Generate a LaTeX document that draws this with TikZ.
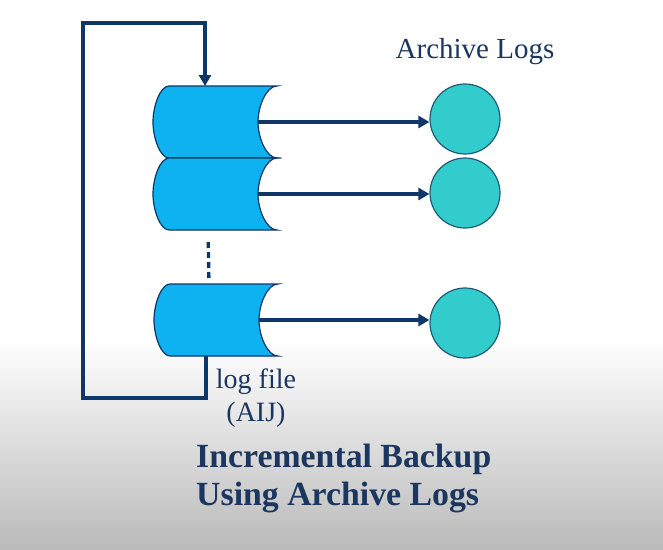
\documentclass[tikz,border=0pt]{standalone}
\usepackage{fontspec}
\setmainfont{Liberation Serif}
\usetikzlibrary{arrows.meta,positioning}

\definecolor{navyline}{HTML}{0E3668}
\definecolor{navytext}{HTML}{1B365F}
\definecolor{drumblue}{HTML}{0FB2F0}
\definecolor{archteal}{HTML}{33CCCC}
\definecolor{archedge}{HTML}{1F5A78}

\begin{document}
\begin{tikzpicture}[x=1pt, y=-1pt, node distance=1cm]
\tikzset{
    mydrum/.style={draw=navyline, fill=drumblue, line width=1.2pt},
    myarrow/.style={-{Triangle[length=11pt,width=12pt]}, draw=navyline, line width=3.3pt},
    myline/.style={draw=navyline, line width=3.3pt},
    archive/.style={circle, draw=archedge, fill=archteal, line width=1.2pt, minimum size=70pt, inner sep=0pt},
    mylabel/.style={text=navytext, inner sep=0pt},
    logfile/.pic={
        \path[mydrum] (-46,-36) -- (62,-36)
            .. controls (51.5,-36) and (43,-16) .. (43,0)
            .. controls (43,16) and (51.5,36) .. (62,36)
            -- (-46,36)
            .. controls (-54.8,36) and (-62,16) .. (-62,0)
            .. controls (-62,-16) and (-54.8,-36) .. (-46,-36) -- cycle;
        \coordinate (-in) at (43,0);
        \coordinate (-top) at (-10,-36);
        \coordinate (-bot) at (-10,36);
    }
}
\useasboundingbox (0,0) rectangle (663,549);
\fill[white] (0,0) rectangle (663,340);
\shade[top color=white, bottom color=black!27] (0,340) rectangle (663,549);

% log files
\pic (d1) at (215,122) {logfile};
\pic (d2) at (215,194) {logfile};
\pic (d3) at (216,320) {logfile};

% archive logs
\node[archive] (a1) at (465,119) {};
\node[archive] (a2) at (465,193) {};
\node[archive] (a3) at (465,323) {};

\draw[myarrow] (d1-in) -- (d1-in -| a1.west);
\draw[myarrow] (d2-in) -- (d2-in -| a2.west);
\draw[myarrow] (d3-in) -- (d3-in -| a3.west);

\draw[myline, dash pattern=on 6pt off 4pt, shorten <=12pt, shorten >=3pt] (d2-bot) ++(3,0) -- ([xshift=3pt]d3-top);

\coordinate (lowleft) at (83,398);
\coordinate (upleft) at (83,23);
\draw[myarrow, line join=miter] (d3-bot) |- (lowleft) -- (upleft) -| (d1-top);

\node[mylabel, font=\fontsize{29}{32}\selectfont] (archlabel) at (475,52) {Archive Logs};
\node[mylabel, font=\fontsize{28}{33}\selectfont, align=center] (loglabel) at (256,398) {log file\\(AIJ)};
\node[mylabel, font=\fontsize{33.8}{38}\selectfont\bfseries, align=left, anchor=west] (title) at (196,478) {Incremental Backup\\Using Archive Logs};
\end{tikzpicture}
\end{document}
